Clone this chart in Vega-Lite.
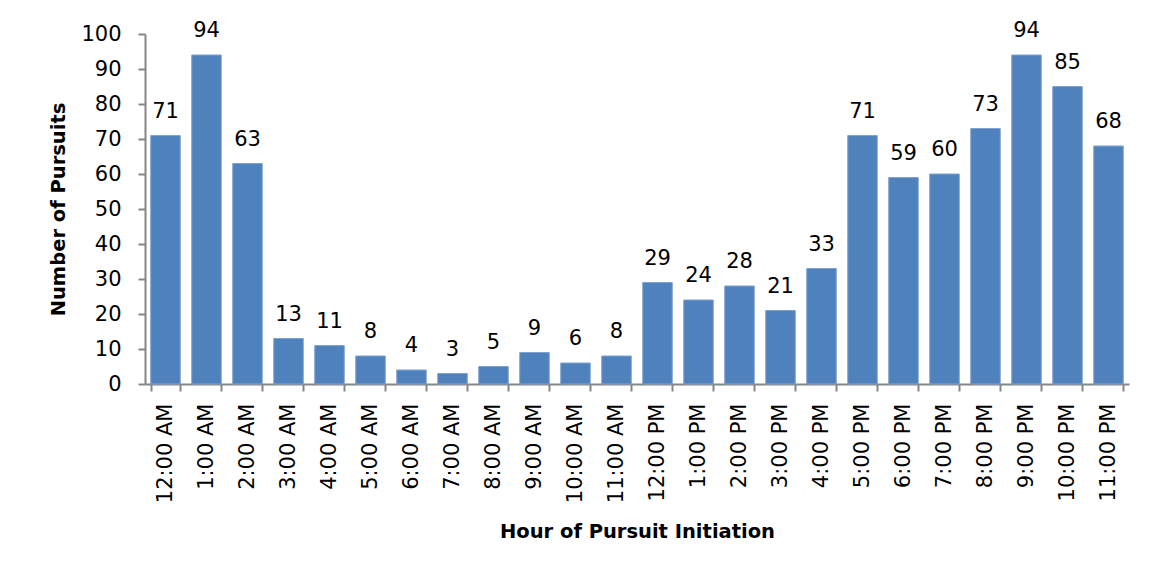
{
  "$schema": "https://vega.github.io/schema/vega-lite/v6.json",
  "width": 984,
  "height": 350,
  "autosize": {"type": "none"},
  "padding": {"left": 145, "top": 34, "right": 24, "bottom": 196},
  "background": "white",
  "config": {
    "view": {"stroke": null},
    "font": "DejaVu Sans",
    "axis": {"labelFont": "DejaVu Sans", "titleFont": "DejaVu Sans", "labelColor": "black", "titleColor": "black", "domainColor": "#868686", "tickColor": "#868686", "grid": false}
  },
  "data": {"values": [
    {"hour": "12:00 AM", "count": 71},
    {"hour": "1:00 AM", "count": 94},
    {"hour": "2:00 AM", "count": 63},
    {"hour": "3:00 AM", "count": 13},
    {"hour": "4:00 AM", "count": 11},
    {"hour": "5:00 AM", "count": 8},
    {"hour": "6:00 AM", "count": 4},
    {"hour": "7:00 AM", "count": 3},
    {"hour": "8:00 AM", "count": 5},
    {"hour": "9:00 AM", "count": 9},
    {"hour": "10:00 AM", "count": 6},
    {"hour": "11:00 AM", "count": 8},
    {"hour": "12:00 PM", "count": 29},
    {"hour": "1:00 PM", "count": 24},
    {"hour": "2:00 PM", "count": 28},
    {"hour": "3:00 PM", "count": 21},
    {"hour": "4:00 PM", "count": 33},
    {"hour": "5:00 PM", "count": 71},
    {"hour": "6:00 PM", "count": 59},
    {"hour": "7:00 PM", "count": 60},
    {"hour": "8:00 PM", "count": 73},
    {"hour": "9:00 PM", "count": 94},
    {"hour": "10:00 PM", "count": 85},
    {"hour": "11:00 PM", "count": 68}
  ]},
  "encoding": {
    "x": {
      "field": "hour", "type": "nominal", "sort": null,
      "scale": {"paddingInner": 0.28, "paddingOuter": 0.14},
      "axis": {
        "title": "Hour of Pursuit Initiation",
        "titleFontSize": 19.5, "titleFontWeight": "bold", "titlePadding": 20,
        "labelAngle": -90, "labelAlign": "right", "labelBaseline": "middle",
        "labelFontSize": 21, "labelPadding": 12,
        "tickBand": "extent", "tickSize": 7, "domainWidth": 2, "tickWidth": 2
      }
    },
    "y": {
      "field": "count", "type": "quantitative",
      "scale": {"domain": [0, 100], "nice": false},
      "axis": {
        "title": "Number of Pursuits",
        "titleFontSize": 19.5, "titleFontWeight": "bold", "titlePadding": 12,
        "values": [0,10,20,30,40,50,60,70,80,90,100],
        "labelFontSize": 21, "labelPadding": 17,
        "tickSize": 7, "domainWidth": 2, "tickWidth": 2
      }
    }
  },
  "layer": [
    {"mark": {"type": "bar", "color": "#4F81BD", "stroke": "#7FA3D0", "strokeWidth": 1}},
    {"mark": {"type": "text", "fontSize": 21, "font": "DejaVu Sans", "color": "black", "baseline": "alphabetic", "dy": -18},
     "encoding": {"text": {"field": "count", "type": "quantitative"}}}
  ]
}
